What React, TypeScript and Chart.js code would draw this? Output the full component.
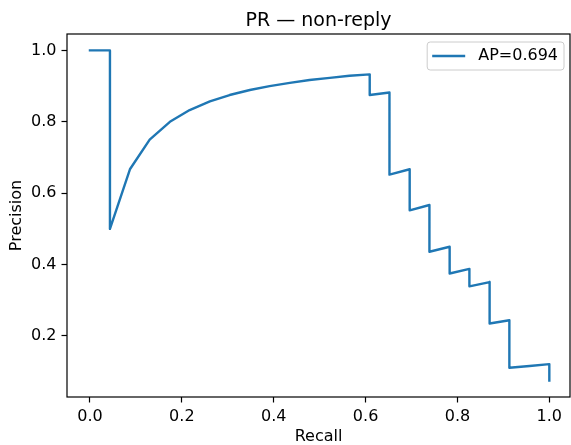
import React, { useEffect, useRef } from "react";
import { Chart, registerables } from "chart.js";

Chart.register(...registerables);

const TITLE = "PR — non-reply";
const X_LABEL = "Recall";
const Y_LABEL = "Precision";
const SERIES_LABEL = "AP=0.694";

const RECALL = [
  0.0, 0.0435, 0.0435, 0.087, 0.13, 0.174, 0.217, 0.261, 0.304, 0.348, 0.391,
  0.435, 0.478, 0.522, 0.565, 0.609, 0.609, 0.652, 0.652, 0.696, 0.696, 0.739,
  0.739, 0.783, 0.783, 0.826, 0.826, 0.87, 0.87, 0.913, 0.913, 0.957, 1.0, 1.0,
];
const PRECISION = [
  1.0, 1.0, 0.5, 0.667, 0.75, 0.8, 0.833, 0.857, 0.875, 0.889, 0.9, 0.909,
  0.917, 0.923, 0.929, 0.933, 0.875, 0.882, 0.652, 0.667, 0.552, 0.567, 0.436,
  0.45, 0.375, 0.388, 0.339, 0.351, 0.235, 0.244, 0.111, 0.116, 0.121, 0.075,
];

const X_TICKS = [0.0, 0.2, 0.4, 0.6, 0.8, 1.0];
const Y_TICKS = [0.2, 0.4, 0.6, 0.8, 1.0];

const FAMILY = "'DejaVu Sans', sans-serif";
const LINE_COLOR = "#1f77b4";
const FONT_SIZE = 16;
const TITLE_SIZE = 19;

export default function App() {
  const ref = useRef<HTMLCanvasElement>(null);

  useEffect(() => {
    const canvas = ref.current;
    if (!canvas) return;

    const mplPlugin = {
      id: "mplDecor",
      afterDraw(chart: any) {
        const { ctx, chartArea: a } = chart;
        ctx.save();
        // frame (all four spines)
        ctx.strokeStyle = "#000";
        ctx.lineWidth = 1.2;
        ctx.strokeRect(a.left, a.top, a.right - a.left, a.bottom - a.top);

        // title
        ctx.fillStyle = "#000";
        ctx.font = `${TITLE_SIZE}px ${FAMILY}`;
        ctx.textAlign = "center";
        ctx.textBaseline = "alphabetic";
        ctx.fillText(TITLE, (a.left + a.right) / 2, 26);

        // legend
        const label = chart.data.datasets[0].label as string;
        ctx.font = `${FONT_SIZE}px ${FAMILY}`;
        const tw = ctx.measureText(label).width;
        const boxW = 51 + tw + 6;
        const boxH = 28;
        const x1 = a.right - 6;
        const x0 = x1 - boxW;
        const y0 = a.top + 8;
        const r = 3;
        ctx.beginPath();
        ctx.moveTo(x0 + r, y0);
        ctx.lineTo(x1 - r, y0);
        ctx.arcTo(x1, y0, x1, y0 + r, r);
        ctx.lineTo(x1, y0 + boxH - r);
        ctx.arcTo(x1, y0 + boxH, x1 - r, y0 + boxH, r);
        ctx.lineTo(x0 + r, y0 + boxH);
        ctx.arcTo(x0, y0 + boxH, x0, y0 + boxH - r, r);
        ctx.lineTo(x0, y0 + r);
        ctx.arcTo(x0, y0, x0 + r, y0, r);
        ctx.closePath();
        ctx.fillStyle = "rgba(255,255,255,0.8)";
        ctx.fill();
        ctx.strokeStyle = "#cccccc";
        ctx.lineWidth = 1;
        ctx.stroke();

        const cy = y0 + boxH / 2;
        ctx.beginPath();
        ctx.moveTo(x0 + 5, cy);
        ctx.lineTo(x0 + 38, cy);
        ctx.strokeStyle = LINE_COLOR;
        ctx.lineWidth = 2.4;
        ctx.stroke();

        ctx.fillStyle = "#000";
        ctx.textAlign = "left";
        ctx.textBaseline = "middle";
        ctx.fillText(label, x0 + 51, cy);
        ctx.restore();
      },
    };

    const tickFont = { family: FAMILY, size: FONT_SIZE };

    const chart = new Chart(canvas, {
      type: "scatter",
      data: {
        datasets: [
          {
            label: SERIES_LABEL,
            data: RECALL.map((x, i) => ({ x, y: PRECISION[i] })),
            showLine: true,
            borderColor: LINE_COLOR,
            backgroundColor: LINE_COLOR,
            borderWidth: 2.4,
            pointRadius: 0,
            pointHoverRadius: 0,
            fill: false,
            tension: 0,
            borderJoinStyle: "round",
            borderCapStyle: "square",
          } as any,
        ],
      },
      options: {
        responsive: false,
        animation: false,
        events: [],
        layout: { padding: { top: 34, right: 1, left: 0, bottom: 0 } },
        plugins: {
          legend: { display: false },
          title: { display: false },
          tooltip: { enabled: false },
        },
        scales: {
          x: {
            type: "linear",
            min: -0.05,
            max: 1.045,
            afterBuildTicks: (s: any) => {
              s.ticks = X_TICKS.map((v) => ({ value: v }));
            },
            afterFit: (s: any) => {
              s.height = 48;
            },
            grid: {
              drawOnChartArea: false,
              drawTicks: true,
              tickLength: 5.5,
              tickColor: "#000",
              tickWidth: 1.2,
            },
            border: { display: false },
            ticks: {
              color: "#000",
              font: tickFont,
              padding: 5,
              maxRotation: 0,
              autoSkip: false,
              callback: (v: any) => Number(v).toFixed(1),
            },
            title: {
              display: true,
              text: X_LABEL,
              color: "#000",
              font: { family: FAMILY, size: FONT_SIZE, lineHeight: 1.0 },
              padding: { top: 0, bottom: 0 },
            },
          },
          y: {
            type: "linear",
            min: 0.029,
            max: 1.046,
            afterBuildTicks: (s: any) => {
              s.ticks = Y_TICKS.map((v) => ({ value: v }));
            },
            afterFit: (s: any) => {
              s.width = 67;
            },
            grid: {
              drawOnChartArea: false,
              drawTicks: true,
              tickLength: 5.5,
              tickColor: "#000",
              tickWidth: 1.2,
            },
            border: { display: false },
            ticks: {
              color: "#000",
              font: tickFont,
              padding: 5,
              autoSkip: false,
              callback: (v: any) => Number(v).toFixed(1),
            },
            title: {
              display: true,
              text: Y_LABEL,
              color: "#000",
              font: tickFont,
              padding: { top: 7, bottom: 0 },
            },
          },
        },
      },
      plugins: [mplPlugin],
    } as any);

    return () => chart.destroy();
  }, []);

  return (
    <div style={{ position: "absolute", left: 0, top: 0, width: 571, height: 445 }}>
      <canvas ref={ref} width={571} height={445} style={{ display: "block" }} />
    </div>
  );
}
